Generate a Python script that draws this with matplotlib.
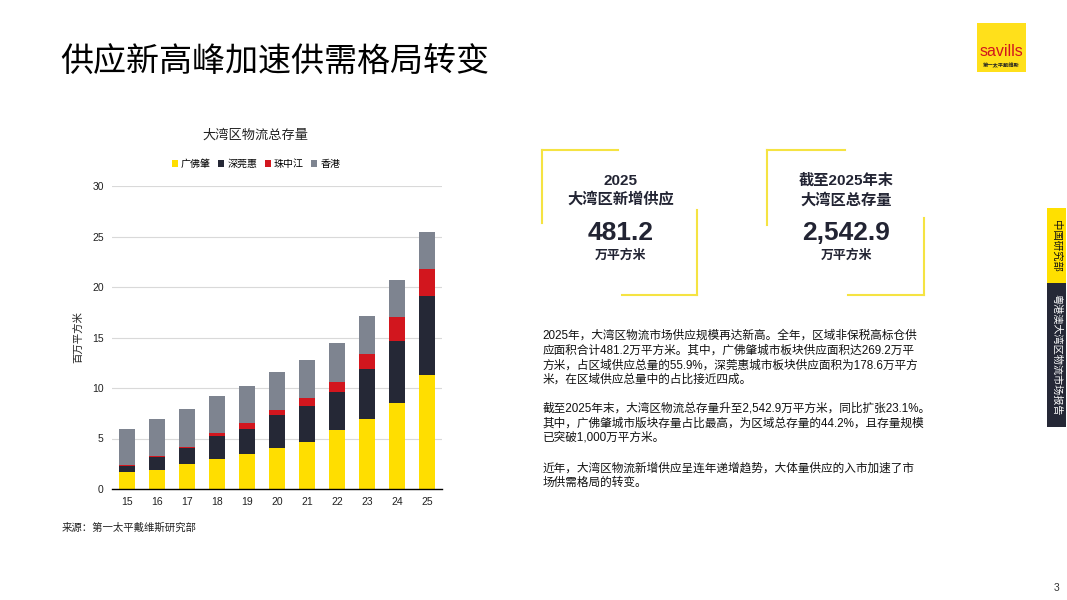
import matplotlib
matplotlib.use("Agg")
import matplotlib.pyplot as plt
from matplotlib.patches import Rectangle
from matplotlib.lines import Line2D
import numpy as np

plt.rcParams['font.family'] = ['Liberation Sans', 'Noto Sans CJK SC', 'DejaVu Sans']

# ---- data ----
years = ["15", "16", "17", "18", "19", "20", "21", "22", "23", "24", "25"]
series_names = ["广佛肇", "深莞惠", "珠中江", "香港"]
gfz = [1.65, 1.84, 2.44, 3.00, 3.49, 4.08, 4.68, 5.83, 6.98, 8.53, 11.24]
sdh = [0.65, 1.29, 1.61, 2.24, 2.50, 3.23, 3.49, 3.82, 4.94, 6.16, 7.89]
zzj = [0.07, 0.10, 0.13, 0.26, 0.50, 0.56, 0.88, 0.99, 1.48, 2.30, 2.67]
hk = [3.62, 3.68, 3.76, 3.75, 3.75, 3.69, 3.76, 3.85, 3.72, 3.66, 3.62]
yticks = [0, 5, 10, 15, 20, 25, 30]
colors = ["#FFDE00", "#252836", "#D2161E", "#7E8490"]

W, H = 1067, 600
fig = plt.figure(figsize=(W / 100, H / 100), dpi=100)

def fx(x):
    return x / W

def fy(y):
    return 1 - y / H

# ---- page title ----
fig.text(fx(60), fy(62), "供应新高峰加速供需格局转变", fontsize=23.8,
         color="black", va="center", ha="left")

# ---- chart ----
ax = fig.add_axes([fx(112), fy(489), fx(442) - fx(112), fy(186) - fy(489)])
x = np.arange(len(years))
bottom = np.zeros(len(years))
for vals, name, c in zip([gfz, sdh, zzj, hk], series_names, colors):
    ax.bar(x, vals, width=0.51, bottom=bottom, color=c, label=name, zorder=3)
    bottom += np.array(vals)
ax.set_xlim(-0.5, len(years) - 0.5)
ax.set_ylim(0, 30)
ax.set_yticks(yticks)
ax.set_xticks(x)
ax.set_xticklabels(years)
ax.tick_params(axis='both', length=0, labelsize=7.5, colors="#222222", pad=6)
ax.grid(axis='y', color="#D9D9D9", lw=0.8, zorder=0)
for s in ["top", "right", "left"]:
    ax.spines[s].set_visible(False)
ax.spines["bottom"].set_color("black")
ax.spines["bottom"].set_linewidth(1.0)
ax.spines["bottom"].set_zorder(4)
ax.set_ylabel("百万平方米", fontsize=7.5, labelpad=6, color="#222222")

fig.text(fx(255), fy(135), "大湾区物流总存量", fontsize=9.5, ha="center", va="center",
         color="#222222")
handles, labels = ax.get_legend_handles_labels()
fig.legend(handles, labels, loc="center", bbox_to_anchor=(fx(256), fy(164)), ncol=4,
           fontsize=7.2, frameon=False, handlelength=0.6, handleheight=0.6,
           handletextpad=0.3, columnspacing=0.75)

fig.text(fx(62), fy(528), "来源：第一太平戴维斯研究部", fontsize=7.5, ha="left",
         va="center", color="#222222")

# ---- boxes ----
yel = "#F5E342"
def line(xs, ys):
    fig.add_artist(Line2D([fx(v) for v in xs], [fy(v) for v in ys], color=yel, lw=1.5))

# left box
line([541.5, 541.5], [223, 150]); line([541.5, 618], [150, 150])
line([696.5, 696.5], [210, 295]); line([622, 696.5], [295, 295])
# right box
line([767, 767], [225, 150]); line([767, 845], [150, 150])
line([924, 924], [218, 295]); line([848, 924], [295, 295])

dark = "#222433"
fig.text(fx(620.5), fy(181), "2025", fontsize=11, fontweight="bold", ha="center", va="center", color=dark)
fig.text(fx(620.5), fy(200), "大湾区新增供应", fontsize=11, fontweight="bold", ha="center", va="center", color=dark)
fig.text(fx(620.5), fy(233), "481.2", fontsize=19, fontweight="bold", ha="center", va="center", color=dark)
fig.text(fx(620.5), fy(256), "万平方米", fontsize=9.3, fontweight="bold", ha="center", va="center", color=dark)

fig.text(fx(846.5), fy(181), "截至2025年末", fontsize=11, fontweight="bold", ha="center", va="center", color=dark)
fig.text(fx(846.5), fy(200), "大湾区总存量", fontsize=11, fontweight="bold", ha="center", va="center", color=dark)
fig.text(fx(846.5), fy(233), "2,542.9", fontsize=19, fontweight="bold", ha="center", va="center", color=dark)
fig.text(fx(846.5), fy(256), "万平方米", fontsize=9.3, fontweight="bold", ha="center", va="center", color=dark)

# ---- paragraph text ----
para = [
    ("2025年，大湾区物流市场供应规模再达新高。全年，区域非保税高标仓供", 336),
    ("应面积合计481.2万平方米。其中，广佛肇城市板块供应面积达269.2万平", 350.7),
    ("方米，占区域供应总量的55.9%，深莞惠城市板块供应面积为178.6万平方", 365.3),
    ("米，在区域供应总量中的占比接近四成。", 379.5),
    ("截至2025年末，大湾区物流总存量升至2,542.9万平方米，同比扩张23.1%。", 408.3),
    ("其中，广佛肇城市版块存量占比最高，为区域总存量的44.2%，且存量规模", 423.2),
    ("已突破1,000万平方米。", 437.8),
    ("近年，大湾区物流新增供应呈连年递增趋势，大体量供应的入市加速了市", 468.3),
    ("场供需格局的转变。", 482.7),
]
for t, yy in para:
    fig.text(fx(542.5), fy(yy), t, fontsize=8.4, ha="left", va="center", color="#111111")

# ---- logo ----
fig.add_artist(Rectangle((fx(977), fy(72)), fx(49), fy(23) - fy(72), color="#FFE01B", lw=0))
fig.text(fx(1001.5), fy(52), "savills", fontsize=11.5, color="#D2161E", ha="center", va="center")
fig.text(fx(1001.5), fy(66), "第一太平戴维斯", fontsize=3.8, fontweight="bold", color="#222222",
         ha="center", va="center")

# ---- side tabs ----
fig.add_artist(Rectangle((fx(1047), fy(283)), fx(19), fy(208) - fy(283), color="#FFE000", lw=0))
fig.add_artist(Rectangle((fx(1047), fy(427)), fx(19), fy(283) - fy(427), color="#252836", lw=0))
fig.text(fx(1056.5), fy(245.5), "中国研究部", fontsize=7.5, rotation=270, ha="center", va="center",
         color="#111111")
fig.text(fx(1056.5), fy(355), "粤港澳大湾区物流市场报告", fontsize=7.3, rotation=270, ha="center",
         va="center", color="white")

# ---- page number ----
fig.text(fx(1057), fy(588), "3", fontsize=7.5, ha="center", va="center", color="#333333")

fig.savefig("out.png", dpi=100, facecolor="white")
